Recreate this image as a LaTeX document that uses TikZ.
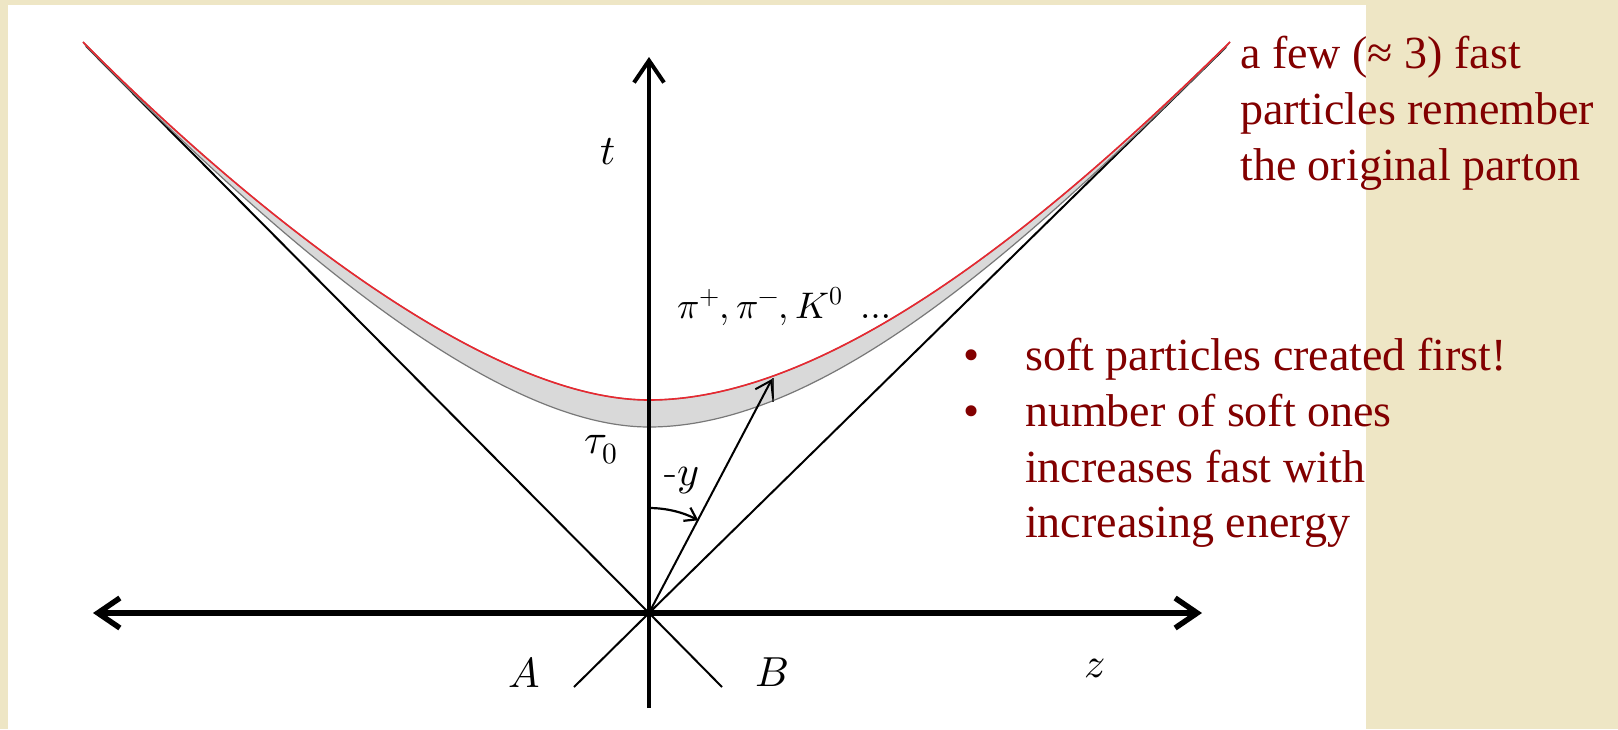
\documentclass[tikz,border=0pt]{standalone}
\usepackage{fontspec}
\usepackage{unicode-math}
\newfontfamily\redfont{Liberation Serif}
\usetikzlibrary{arrows.meta}
\definecolor{parch}{RGB}{238,230,197}
\definecolor{maroon}{RGB}{130,0,0}
\definecolor{curvered}{RGB}{232,40,48}
\definecolor{bandgray}{RGB}{217,217,217}
\definecolor{bandedge}{RGB}{120,120,120}
\begin{document}
\begin{tikzpicture}[x=1pt,y=-1pt,
  redtxt/.style={inner sep=0pt, text=maroon, font=\redfont\fontsize{46}{56}\selectfont},
  biglab/.style={inner sep=0pt, font=\fontsize{42}{50}\selectfont},
  smalllab/.style={inner sep=0pt, font=\fontsize{37}{44}\selectfont},
  cone/.style={line width=2pt, black},
  haxis/.style={line width=5.5pt, {Straight Barb[length=22pt,width=30pt]}-{Straight Barb[length=22pt,width=30pt]}},
  vaxis/.style={line width=4pt, -{Straight Barb[length=22pt,width=30pt]}},
  partarrow/.style={line width=2pt, -{Straight Barb[length=15pt,width=20pt]}},
  arcarrow/.style={line width=2.2pt, -{Straight Barb[length=11pt,width=15pt]}},
  band/.style={fill=bandgray, draw=bandedge, line width=1.2pt},
  hyper/.style={draw=curvered, line width=1.6pt}
]
\fill[parch] (0,0) rectangle (1618,729);
\useasboundingbox (0,0) rectangle (1618,729);
\fill[white] (8,5) rectangle (1366,729);

% key points
\coordinate (O) at (649,613);
\coordinate (Lend) at (86,46);
\coordinate (Rend) at (1226,47);
\coordinate (Aend) at (574,687);
\coordinate (Bend) at (722,687);
\coordinate (RLend) at (83,42);
\coordinate (RRend) at (1230,42);
\coordinate (Rtop) at (649,400);
\coordinate (Gtop) at (649,427);

% light cone
\draw[cone] (Aend) -- (O) -- (Rend);
\draw[cone] (Bend) -- (O) -- (Lend);

% band between the two hyperbolas
\path[band] (RLend) .. controls (209.6,169.9) and (469,400) .. (Rtop)
  .. controls (849,400) and (1087.2,182.1) .. (RRend)
  -- (Rend) .. controls (1054.5,214.9) and (839,427) .. (Gtop)
  .. controls (479,427) and (240.9,202.3) .. (Lend) -- cycle;
\draw[hyper] (RLend) .. controls (209.6,169.9) and (469,400) .. (Rtop)
  .. controls (849,400) and (1087.2,182.1) .. (RRend);

% small tick in the band at the particle
\coordinate (tickA) at (773,378);
\coordinate (tickB) at (773,402);
\draw[line width=1.4pt, black!80] (tickA) -- (tickB);

% axes
\coordinate (Hl) at (93,613);
\coordinate (Hr) at (1202,613);
\coordinate (Vb) at (649,708);
\coordinate (Vt) at (649,57);
\draw[haxis] (Hl) -- (Hr);
\draw[vaxis] (Vb) -- (Vt);

% particle arrow and rapidity arc
\coordinate (P) at (772,379);
\draw[partarrow] (O) -- (P);
\coordinate (arcS) at (649,508);
\draw[arcarrow] (arcS) arc[start angle=-90, end angle=-62, radius=105];

% labels
\node[biglab] (tlab) at (608,152) {$t$};
\node[biglab] (taulab) at (601,450) {$\tau_0$};
\node[biglab] (ylab) at (682,481) {-$y$};
\node[smalllab, anchor=base west] (pilab) at (677,318) {$\pi^+,\pi^-,K^0\ \dots$};
\node[biglab] (Alab) at (524,672) {$A$};
\node[biglab] (Blab) at (772,672) {$B$};
\node[biglab] (zlab) at (1095,668) {$z$};

% texts
\node[redtxt, anchor=base west] (l1) at (1240,68) {a few (≈ 3) fast};
\node[redtxt, anchor=base west] (l2) at (1240,124) {particles remember};
\node[redtxt, anchor=base west] (l3) at (1240,180) {the original parton};
\node[redtxt, anchor=base] (b1) at (972,370) {•};
\node[redtxt, anchor=base west] (s1) at (1025,370) {soft particles created first!};
\node[redtxt, anchor=base] (b2) at (972,426) {•};
\node[redtxt, anchor=base west] (s2) at (1025,426) {number of soft ones};
\node[redtxt, anchor=base west] (s3) at (1025,482) {increases fast with};
\node[redtxt, anchor=base west] (s4) at (1025,537) {increasing energy};
\end{tikzpicture}
\end{document}
